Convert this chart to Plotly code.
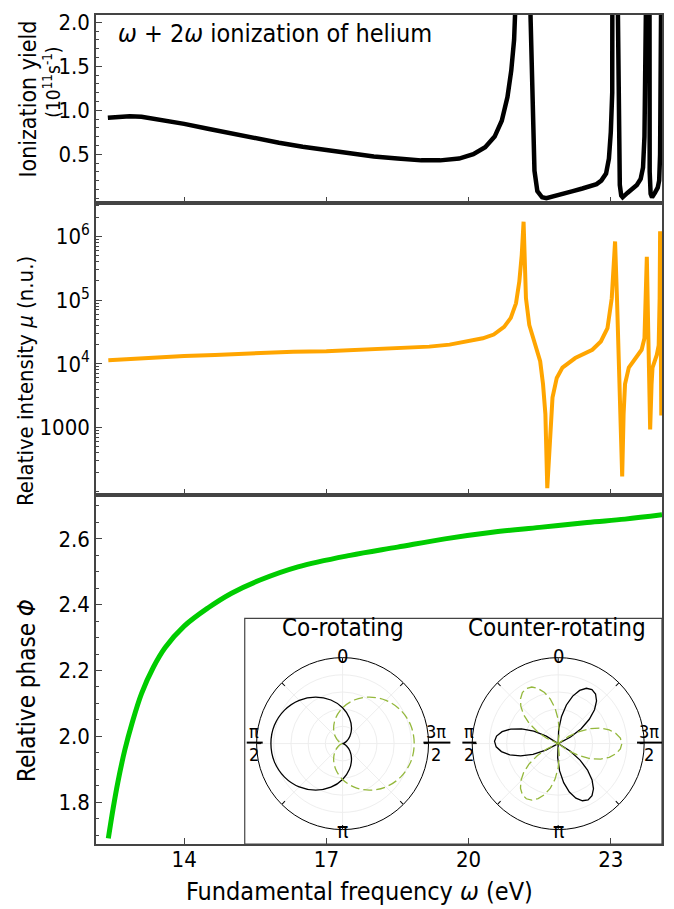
import plotly.graph_objects as go

FONT = "DejaVu Sans Condensed, Liberation Sans Narrow, DejaVu Sans, sans-serif"

# ---------------- data ----------------
# top panel: ionization yield (1e11 s^-1)
yield_x = [12.39, 12.6, 12.85, 13.1, 13.5, 14.0, 14.5, 15.0, 15.5, 16.0, 16.5, 17.0, 17.5,
           18.0, 18.5, 19.0, 19.4, 19.8, 20.1, 20.35, 20.55, 20.7, 20.82, 20.9, 20.96,
           21.0, 21.08, 21.15, 21.24, 21.31, 21.35, 21.39, 21.45, 21.55, 21.64, 21.8,
           22.0, 22.2, 22.4, 22.55, 22.7, 22.8, 22.9, 22.96, 23.0, 23.03, 23.05, 23.1,
           23.15, 23.17, 23.19, 23.22, 23.25, 23.35, 23.45, 23.55, 23.63, 23.68, 23.71,
           23.74, 23.77, 23.8, 23.82, 23.84, 23.87, 23.93, 23.99, 24.02, 24.04, 24.06, 24.08]
yield_y = [0.914, 0.928, 0.932, 0.925, 0.895, 0.845, 0.79, 0.735, 0.68, 0.63, 0.585, 0.545, 0.505,
           0.475, 0.45, 0.43, 0.43, 0.45, 0.5, 0.58, 0.7, 0.88, 1.15, 1.45, 1.8,
           2.1, 3.5, 30.0, 3.5, 2.0, 1.0, 0.31, 0.08, 0.01, 0.0, 0.02,
           0.05, 0.08, 0.11, 0.13, 0.16, 0.2, 0.28, 0.45, 0.75, 1.2, 2.1, 30.0,
           2.1, 0.6, 0.15, 0.03, 0.01, 0.06, 0.1, 0.15, 0.22, 0.35, 0.7,
           2.1, 30.0, 2.1, 0.3, 0.05, 0.01, 0.06, 0.12, 0.2, 0.5, 2.1, 30.0]

# middle panel: relative intensity mu (n.u.)
mu_x = [12.4, 13.0, 14.0, 14.65, 15.5, 16.3, 17.0, 18.0, 19.17, 19.6, 19.99, 20.3, 20.53,
        20.75, 20.89, 21.0, 21.07, 21.12, 21.16, 21.18, 21.21, 21.28, 21.39, 21.51, 21.57,
        21.62, 21.66, 21.73, 21.77, 21.86, 21.98, 22.25, 22.61, 22.79, 22.93, 23.02, 23.06,
        23.09, 23.13, 23.15, 23.2, 23.24, 23.27, 23.3, 23.38, 23.51, 23.65, 23.71, 23.74,
        23.76, 23.79, 23.81, 23.83, 23.86, 23.88, 23.97, 24.01, 24.03, 24.04, 24.065]
mu_y = [11400, 12200, 13300, 13800, 14800, 15500, 15800, 17000, 18600, 20000, 22400, 25100, 28800,
        38000, 52500, 89000, 195000, 500000, 1700000, 355000, 107000, 40700, 22400, 11000, 4800,
        1620, 112, 1000, 2950, 6000, 8700, 12300, 16600, 22400, 36300, 107000, 355000,
        832000, 107000, 32400, 4800, 170, 1620, 4800, 8700, 11700, 16600, 25100, 107000,
        479000, 32400, 2950, 930, 4800, 8700, 13800, 19500, 107000, 1200000, 1550]

# bottom panel: relative phase
phase_x = [12.4, 12.5, 12.6, 12.75, 12.9, 13.1, 13.35, 13.6, 14.0, 14.5, 15.0, 15.6, 16.4,
           17.5, 18.5, 19.5, 20.5, 21.5, 22.5, 23.3, 24.08]
phase_y = [1.69, 1.78, 1.86, 1.96, 2.04, 2.13, 2.21, 2.27, 2.335, 2.39, 2.435, 2.475, 2.515,
           2.55, 2.575, 2.60, 2.62, 2.635, 2.65, 2.66, 2.673]

x_ticks = [14, 17, 20, 23]

# inset polar data (angles in degrees, 0 at top, counter-clockwise)
co_theta = [0, 15, 30, 45, 60, 75, 90, 105, 120, 135, 150, 165, 180,
            195, 210, 225, 240, 255, 270, 285, 300, 315, 330, 345, 360]
co_r_solid = [1.0, 1.26, 1.5, 1.71, 1.87, 1.97, 2.0, 1.97, 1.87, 1.71, 1.5, 1.26, 1.0,
              0.74, 0.5, 0.29, 0.13, 0.03, 0.0, 0.03, 0.13, 0.29, 0.5, 0.74, 1.0]

petal_offsets = [-35, -30, -25, -20, -15, -10, -5, 0, 5, 10, 15, 20, 25, 30, 35]
petal_solid = [0.0, 0.22, 0.43, 0.62, 0.78, 0.9, 0.975, 1.0, 0.975, 0.9, 0.78, 0.62, 0.43, 0.22, 0.0]
petal_offsets_dash = [-40, -35, -30, -25, -20, -15, -10, -5, 0, 5, 10, 15, 20, 25, 30, 35, 40]
petal_dash = [0.0, 0.2, 0.38, 0.56, 0.71, 0.83, 0.92, 0.98, 1.0, 0.98, 0.92, 0.83, 0.71, 0.56, 0.38, 0.2, 0.0]
lobes_solid = [88, 208, 328]
lobes_dash = [30, 150, 270]

# ---------------- layout helpers ----------------
W, H = 674, 909
L, R, T, B = 96, 663, 10, 844


def px(x):
    return (x - L) / (R - L)


def py(y):
    return (B - y) / (B - T)


BLACK = "black"
ORANGE = "#ffa500"
GREEN = "#00cc00"
OLIVE = "#94b83c"
AXC = "#444444"

fig = go.Figure()

fig.add_trace(go.Scatter(x=yield_x, y=yield_y, mode="lines", xaxis="x3", yaxis="y3",
                         line=dict(color=BLACK, width=4.5), showlegend=False))
fig.add_trace(go.Scatter(x=mu_x, y=mu_y, mode="lines", xaxis="x2", yaxis="y2",
                         line=dict(color=ORANGE, width=4), showlegend=False))
fig.add_trace(go.Scatter(x=phase_x, y=phase_y, mode="lines", xaxis="x", yaxis="y",
                         line=dict(color=GREEN, width=5, shape="spline"), showlegend=False))

# polar co-rotating
fig.add_trace(go.Scatterpolar(r=co_r_solid, theta=co_theta, mode="lines", subplot="polar",
                              line=dict(color=BLACK, width=1.3, shape="spline"), showlegend=False))
fig.add_trace(go.Scatterpolar(r=co_r_solid, theta=[360 - t for t in co_theta], mode="lines",
                              subplot="polar",
                              line=dict(color=OLIVE, width=1.3, dash="9px,4px", shape="spline"),
                              showlegend=False))


def rose(lobes, offs, prof):
    th, rr = [], []
    for c in lobes:
        for o, v in zip(offs, prof):
            th.append(c + o)
            rr.append(v)
    th.append(th[0])
    rr.append(rr[0])
    return th, rr


th_s, r_s = rose(lobes_solid, petal_offsets, petal_solid)
th_d, r_d = rose(lobes_dash, petal_offsets_dash, petal_dash)
fig.add_trace(go.Scatterpolar(r=r_s, theta=th_s, mode="lines", subplot="polar2",
                              line=dict(color=BLACK, width=1.3), showlegend=False))
fig.add_trace(go.Scatterpolar(r=r_d, theta=th_d, mode="lines", subplot="polar2",
                              line=dict(color=OLIVE, width=1.3, dash="9px,4px"), showlegend=False))

# domains
d_bot = [0, py(493)]
d_mid = [py(493), py(199)]
d_top = [py(199), 1]

common_x = dict(range=[12.14, 24.08], tickvals=x_ticks, ticks="inside", ticklen=6,
                tickcolor=AXC, showline=True, linecolor=AXC, linewidth=1.5, mirror=True,
                showgrid=False, zeroline=False)

tickfont = dict(family=FONT, size=22, color="black")

polar_common = dict(
    bgcolor="white",
    angularaxis=dict(rotation=90, direction="counterclockwise", showticklabels=False,
                     ticks="inside", ticklen=4, tickcolor="black", dtick=45,
                     linecolor="black", linewidth=1, showgrid=True, gridcolor="#eeeeee",
                     gridwidth=1),
)

PR = 86.5  # half-size of polar domain (px)
pol1_dom_x = [px(343 - PR), px(343 + PR)]
pol2_dom_x = [px(559 - PR), px(559 + PR)]
pol_dom_y = [py(743 + PR), py(743 - PR)]

fig.update_layout(
    width=W, height=H,
    margin=dict(l=L, r=W - R, t=T, b=H - B),
    paper_bgcolor="white", plot_bgcolor="white",
    font=dict(family=FONT, size=22, color="black"),
    showlegend=False,
    xaxis=dict(**common_x, anchor="y", domain=[0, 1], tickfont=tickfont,
               showticklabels=True, ticktext=[str(v) for v in x_ticks], tickmode="array",
               ticklabelstandoff=-5),
    xaxis2=dict(**common_x, anchor="y2", domain=[0, 1], matches="x", showticklabels=False),
    xaxis3=dict(**common_x, anchor="y3", domain=[0, 1], matches="x", showticklabels=False),
    yaxis=dict(domain=d_bot, anchor="x", range=[1.673, 2.733],
               tickvals=[1.8, 2.0, 2.2, 2.4, 2.6], ticktext=["1.8", "2.0", "2.2", "2.4", "2.6"],
               ticks="inside", ticklen=6, tickcolor=AXC, tickfont=tickfont,
               minor=dict(ticks="inside", ticklen=3, dtick=0.05, tickcolor=AXC),
               showline=True, linecolor=AXC, linewidth=1.5, mirror=True,
               showgrid=False, zeroline=False),
    yaxis2=dict(domain=d_mid, anchor="x2", type="log", range=[1.939, 6.526],
                tickvals=[1000, 1e4, 1e5, 1e6],
                ticktext=["1000", "10<sup>4</sup>", "10<sup>5</sup>", "10<sup>6</sup>"],
                ticks="inside", ticklen=6, tickcolor=AXC, tickfont=tickfont,
                minor=dict(ticks="inside", ticklen=3, tickcolor=AXC,
                           tickvals=[100, 200, 300, 400, 500, 600, 700, 800, 900,
                                     2000, 3000, 4000, 5000, 6000, 7000, 8000, 9000,
                                     2e4, 3e4, 4e4, 5e4, 6e4, 7e4, 8e4, 9e4,
                                     2e5, 3e5, 4e5, 5e5, 6e5, 7e5, 8e5, 9e5, 2e6, 3e6]),
                showline=True, linecolor=AXC, linewidth=1.5, mirror=True,
                showgrid=False, zeroline=False),
    yaxis3=dict(domain=d_top, anchor="x3", range=[-0.053, 2.082],
                tickvals=[0.5, 1.0, 1.5, 2.0], ticktext=["0.5", "1.0", "1.5", "2.0"],
                ticks="inside", ticklen=6, tickcolor=AXC, tickfont=tickfont,
                minor=dict(ticks="inside", ticklen=3, dtick=0.1, tickcolor=AXC),
                showline=True, linecolor=AXC, linewidth=1.5, mirror=True,
                showgrid=False, zeroline=False),
    polar=dict(domain=dict(x=pol1_dom_x, y=pol_dom_y), **polar_common,
               radialaxis=dict(range=[0, 2.4], showticklabels=False, ticks="", showline=False,
                               tickvals=[0.48, 0.96, 1.44, 1.92], gridcolor="#eeeeee")),
    polar2=dict(domain=dict(x=pol2_dom_x, y=pol_dom_y), **polar_common,
                radialaxis=dict(range=[0, 1.35], showticklabels=False, ticks="", showline=False,
                                tickvals=[0.27, 0.54, 0.81, 1.08], gridcolor="#eeeeee")),
)

shapes = [
    dict(type="rect", xref="paper", yref="paper", x0=px(245), x1=1.0, y0=0, y1=py(617),
         line=dict(color=AXC, width=1.2), fillcolor="rgba(0,0,0,0)", layer="above"),
]
# fraction bars for pi/2 and 3pi/2 labels
for xa, xb in [(247, 263), (424, 451), (463, 477), (638, 663)]:
    shapes.append(dict(type="line", xref="paper", yref="paper", x0=px(xa), x1=px(xb),
                       y0=py(742), y1=py(742), line=dict(color="black", width=2)))
fig.update_layout(shapes=shapes)

ann = []


def add_text(text, x, y, size, angle=0, xanchor="center"):
    ann.append(dict(text=text, x=px(x), y=py(y), xref="paper", yref="paper",
                    showarrow=False, textangle=angle, xanchor=xanchor, yanchor="middle",
                    font=dict(family=FONT, size=size, color="black")))


add_text("<i>ω</i> + 2<i>ω</i> ionization of helium", 116, 29, 25, xanchor="left")
add_text("Ionization yield", 28, 95, 23, angle=-90)
add_text("(10<sup>11</sup>s<sup>-1</sup>)", 52, 78, 19, angle=-90)
add_text("Relative intensity <i>μ</i> (n.u.)", 26, 378, 22, angle=-90)
add_text("Relative phase <i>Φ</i>", 27, 690, 24, angle=-90)
add_text("Fundamental frequency <i>ω</i> (eV)", 360, 892, 25)

add_text("Co-rotating", 343, 627, 24)
add_text("Counter-rotating", 558, 627, 24)
for cx in [343, 559]:
    add_text("0", cx, 655, 20)
    add_text("π", cx, 831, 21)
for cx in [254, 470]:
    add_text("π", cx, 731, 18)
    add_text("2", cx, 754, 18)
for cx in [437, 650]:
    add_text("3π", cx, 731, 18)
    add_text("2", cx, 754, 18)

fig.update_layout(annotations=ann)

fig.write_html("out.html", config={"displayModeBar": False},
               post_script="document.body.style.margin='0px';")
